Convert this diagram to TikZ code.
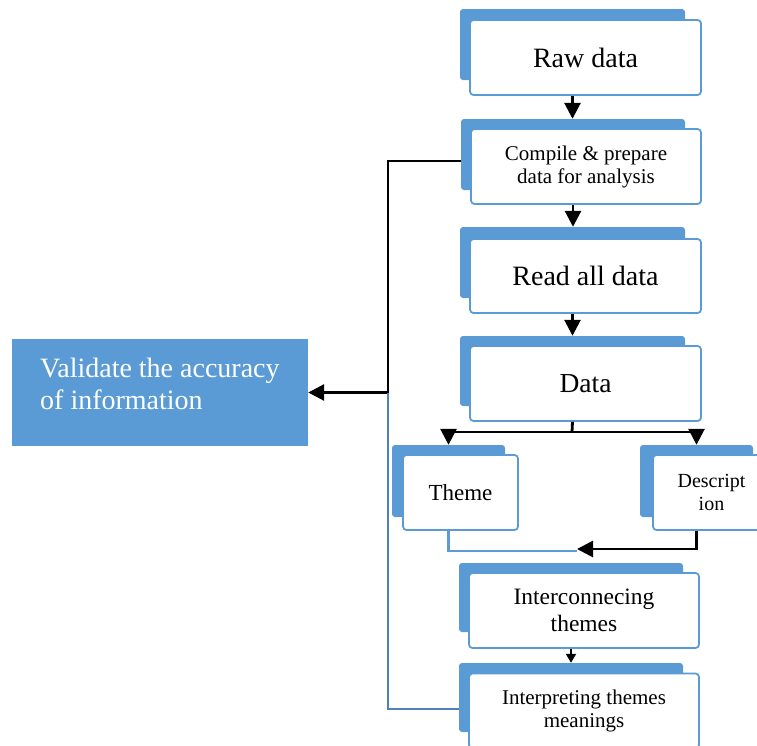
\documentclass[tikz,border=0pt]{standalone}
\usepackage{fontspec}
\setmainfont{Liberation Serif}
\usetikzlibrary{arrows.meta}
\definecolor{boxblue}{HTML}{5B9BD5}
\definecolor{linkblue}{HTML}{4F81BD}
\tikzset{
  backbox/.style={fill=boxblue, rounded corners=3pt, inner sep=0pt},
  frontbox/.style={fill=white, draw=boxblue, line width=1.8pt, rounded corners=3.5pt,
    inner sep=0pt, align=center, text=black},
  arr/.style={line width=2.8pt, -{Triangle[width=16pt,length=16pt]}},
  smallarr/.style={line width=2pt, -{Triangle[width=10pt,length=9pt]}},
  blueline/.style={draw=linkblue, line width=2.4pt},
  bluelight/.style={draw=boxblue, line width=2.4pt},
}
\newcommand{\fsz}[2]{\fontsize{#1}{#2}\selectfont}
\begin{document}
\begin{tikzpicture}[x=1pt, y=-1pt]
\useasboundingbox (0,0) rectangle (757,745);
\clip (0,0) rectangle (757,745);

% stacked process boxes: blue back plate, white front card
\node[backbox, minimum width=225pt, minimum height=71pt] (rawb) at (572.5,44.5) {};
\node[frontbox, minimum width=231pt, minimum height=75pt, font=\fsz{28}{32}] (raw) at (585.5,57.5) {Raw data};

\node[backbox, minimum width=224pt, minimum height=71pt] (cmpb) at (573,154.5) {};
\node[frontbox, minimum width=230pt, minimum height=75pt, font=\fsz{21}{23}] (cmp) at (586,166.5) {Compile \& prepare\\data for analysis};

\node[backbox, minimum width=225pt, minimum height=71pt] (readb) at (572.5,262.5) {};
\node[frontbox, minimum width=231pt, minimum height=74pt, font=\fsz{28}{32}] (read) at (585.5,276) {Read all data};

\node[backbox, minimum width=225pt, minimum height=70pt] (datab) at (572.5,371) {};
\node[frontbox, minimum width=231pt, minimum height=75pt, font=\fsz{27.5}{32}] (data) at (585.5,383.5) {Data};

\node[backbox, minimum width=113pt, minimum height=72pt] (themeb) at (448.5,481) {};
\node[frontbox, minimum width=115pt, minimum height=75pt, font=\fsz{23}{27}] (theme) at (460.5,492.5) {Theme};

\node[backbox, minimum width=113pt, minimum height=72pt] (descb) at (696.5,481) {};
\node[frontbox, minimum width=117pt, minimum height=75pt, font=\fsz{20}{23}] (desc) at (711.5,492.5) {Descript\\ion};

\node[backbox, minimum width=224pt, minimum height=69pt] (interb) at (571,597.5) {};
\node[frontbox, minimum width=230pt, minimum height=75pt, font=\fsz{23.5}{27}] (inter) at (584,610.5) {Interconnecing\\themes};

\node[backbox, minimum width=224pt, minimum height=69pt] (interpb) at (571,697.5) {};
\node[frontbox, minimum width=230pt, minimum height=75pt, font=\fsz{21}{23}] (interp) at (584,711) {Interpreting themes\\meanings};

% validation box on the left
\node[fill=boxblue, inner sep=0pt, minimum width=296pt, minimum height=107pt] (valid) at (160,392.5) {};
\node[anchor=west, inner sep=0pt, align=left, text=white, font=\fsz{28}{32}] (validtxt) at (40,384) {Validate the accuracy\\of information};

% main flow
\draw[arr] (rawb.south |- raw.south) -- (rawb.south |- cmpb.north);
\draw[arr] (cmpb.south |- cmp.south) -- (cmpb.south |- readb.north);
\draw[arr] (readb.south |- read.south) -- (readb.south |- datab.north);

% split into theme and description
\coordinate (split) at (572,432);
\draw[line width=2.8pt] (datab.south |- data.south) -- (split);
\draw[arr] (split) -| (themeb.north);
\draw[arr] (split) -| (descb.north);

% merge into interconnecting themes
\coordinate (merge) at (577,549);
\draw[bluelight] (theme.south -| themeb.north) |- ([yshift=-2pt]merge);
\draw[arr] (desc.south -| descb.north) |- (merge);
\draw[smallarr] (interb.south |- inter.south) -- (interb.south |- interpb.north);

% feedback to validation
\coordinate (fbtop) at (388,161);
\coordinate (fbmid) at (388,392.5);
\coordinate (fbbot) at (388,709);
\draw[arr] (cmpb.west |- fbtop) -- (fbtop) -- (fbmid) -- (valid.east);
\draw[blueline] (fbmid) -- (fbbot) -- (interpb.west |- fbbot);
\end{tikzpicture}
\end{document}
